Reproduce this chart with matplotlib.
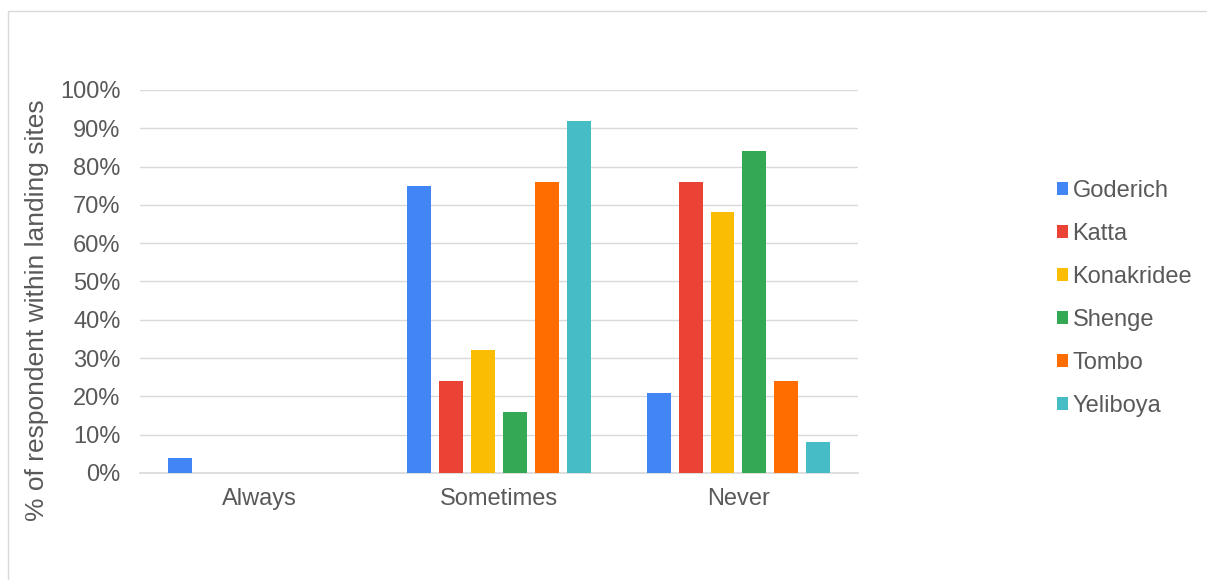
import numpy as np
import matplotlib
matplotlib.use("Agg")
import matplotlib.pyplot as plt
from matplotlib.patches import Rectangle

plt.rcParams['font.family'] = ['Liberation Sans', 'DejaVu Sans']

# data
categories = ["Always", "Sometimes", "Never"]
sites = ["Goderich", "Katta", "Konakridee", "Shenge", "Tombo", "Yeliboya"]
goderich = [4, 75, 21]
katta = [0, 24, 76]
konakridee = [0, 32, 68]
shenge = [0, 16, 84]
tombo = [0, 76, 24]
yeliboya = [0, 92, 8]
colors = ["#4285f4", "#ea4335", "#fbbc04", "#34a853", "#ff6d01", "#46bdc6"]

series = [goderich, katta, konakridee, shenge, tombo, yeliboya]
fs = 17

fig = plt.figure(figsize=(12.07, 5.8), dpi=100)
ax = fig.add_axes([0.116, 0.1845, 0.595, 0.6605])

x = np.arange(len(categories))
slot = 0.8 / len(sites)
barw = slot * 0.75
for i, vals in enumerate(series):
    pos = x - 0.4 + slot * (i + 0.5)
    ax.bar(pos, [v / 100 for v in vals], width=barw, color=colors[i],
           label=sites[i], zorder=3)

ax.set_xlim(-0.5, 2.5)
ax.set_ylim(0, 1.0)
ticks = np.arange(0, 1.01, 0.1)
ax.set_yticks(ticks)
ax.set_yticklabels([f"{int(round(t*100))}%" for t in ticks])
ax.set_xticks(x)
ax.set_xticklabels(categories)
ax.grid(axis="y", color="#d9d9d9", linewidth=1, zorder=0)
for s in ["top", "right", "left"]:
    ax.spines[s].set_visible(False)
ax.spines["bottom"].set_color("#d9d9d9")
ax.spines["bottom"].set_linewidth(1.2)
ax.tick_params(axis="both", length=0, labelsize=fs, colors="#595959")
ax.tick_params(axis="x", pad=11)
ax.tick_params(axis="y", pad=14)

# y axis title sits a little below the plot's centre, as in the original
fig.text(37 / 1207, 1 - 310 / 580, "% of respondent within landing sites",
         rotation=90, ha="center", va="center", fontsize=19, color="#595959")

fig.legend(loc="center left", bbox_to_anchor=(0.866, 0.486), frameon=False,
           fontsize=fs, labelcolor="#595959", handlelength=0.45, handleheight=0.45,
           handletextpad=0.2, labelspacing=0.89, borderpad=0)

fig.patches.append(Rectangle((8 / 1207, -0.2), 1.2, 1.2 - 11 / 580, transform=fig.transFigure,
                             fill=False, edgecolor="#d9d9d9", linewidth=1))

fig.savefig("out.png", dpi=100)
